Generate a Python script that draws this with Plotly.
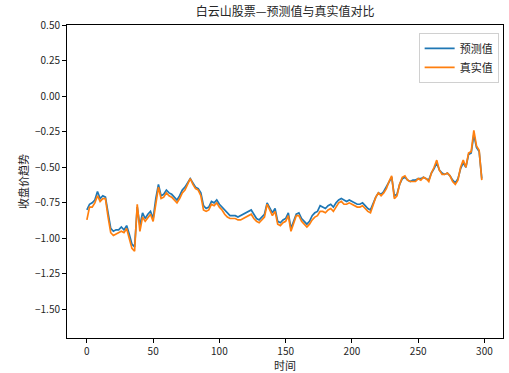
import plotly.graph_objects as go

time_steps = list(range(0, 300, 2))

actual_values = [
    -0.87, -0.78, -0.78, -0.75, -0.70, -0.74, -0.72, -0.72, -0.85, -0.96,
    -0.98, -0.97, -0.96, -0.95, -0.96, -0.93, -1.00, -1.07, -1.09, -0.76,
    -0.95, -0.85, -0.88, -0.85, -0.83, -0.88, -0.75, -0.64, -0.72, -0.71,
    -0.68, -0.70, -0.71, -0.73, -0.75, -0.72, -0.68, -0.66, -0.62, -0.58,
    -0.62, -0.65, -0.66, -0.70, -0.80, -0.81, -0.80, -0.76, -0.77, -0.75,
    -0.78, -0.80, -0.83, -0.85, -0.86, -0.86, -0.86, -0.87, -0.87, -0.86,
    -0.85, -0.84, -0.83, -0.86, -0.88, -0.89, -0.87, -0.85, -0.76, -0.80,
    -0.84, -0.81, -0.90, -0.91, -0.89, -0.88, -0.84, -0.95, -0.89, -0.84,
    -0.84, -0.88, -0.90, -0.92, -0.90, -0.87, -0.85, -0.84, -0.81, -0.81,
    -0.82, -0.80, -0.79, -0.81, -0.78, -0.75, -0.74, -0.76, -0.76, -0.75,
    -0.76, -0.77, -0.78, -0.78, -0.77, -0.79, -0.81, -0.82, -0.76, -0.71,
    -0.68, -0.70, -0.68, -0.65, -0.60, -0.56, -0.72, -0.70, -0.62, -0.57,
    -0.56, -0.59, -0.60, -0.60, -0.60, -0.58, -0.59, -0.57, -0.58, -0.60,
    -0.54, -0.50, -0.45, -0.52, -0.55, -0.55, -0.54, -0.56, -0.60, -0.62,
    -0.59, -0.50, -0.45, -0.50, -0.40, -0.39, -0.24, -0.35, -0.38, -0.59,
]

predicted_values = [
    -0.80, -0.76, -0.75, -0.73, -0.67, -0.72, -0.70, -0.71, -0.82, -0.93,
    -0.95, -0.94, -0.94, -0.92, -0.94, -0.91, -0.97, -1.04, -1.06, -0.78,
    -0.91, -0.82, -0.86, -0.83, -0.81, -0.86, -0.72, -0.62, -0.70, -0.69,
    -0.66, -0.68, -0.69, -0.71, -0.73, -0.70, -0.66, -0.64, -0.61, -0.58,
    -0.61, -0.64, -0.65, -0.68, -0.77, -0.79, -0.78, -0.74, -0.75, -0.73,
    -0.76, -0.78, -0.80, -0.82, -0.84, -0.84, -0.84, -0.85, -0.84, -0.83,
    -0.82, -0.81, -0.80, -0.83, -0.86, -0.87, -0.85, -0.83, -0.75, -0.78,
    -0.82, -0.79, -0.88, -0.89, -0.87, -0.86, -0.82, -0.93, -0.88, -0.83,
    -0.82, -0.86, -0.88, -0.90, -0.88, -0.84, -0.82, -0.81, -0.77, -0.78,
    -0.79, -0.77, -0.76, -0.78, -0.75, -0.73, -0.72, -0.73, -0.74, -0.73,
    -0.74, -0.75, -0.76, -0.76, -0.75, -0.77, -0.79, -0.80, -0.75, -0.71,
    -0.68, -0.69, -0.67, -0.64, -0.60, -0.57, -0.70, -0.69, -0.62, -0.58,
    -0.57, -0.59, -0.60, -0.59, -0.59, -0.58, -0.58, -0.57, -0.58, -0.59,
    -0.54, -0.51, -0.47, -0.52, -0.54, -0.55, -0.54, -0.56, -0.59, -0.61,
    -0.58, -0.51, -0.47, -0.50, -0.41, -0.40, -0.27, -0.36, -0.39, -0.58,
]

series_names = ["预测值", "真实值"]
series_colors = ["#1f77b4", "#ff7f0e"]

chart_title = "白云山股票—预测值与真实值对比"
x_title = "时间"
y_title = "收盘价趋势"
x_tick_values = [0, 50, 100, 150, 200, 250, 300]
y_tick_values = [0.5, 0.25, 0.0, -0.25, -0.5, -0.75, -1.0, -1.25, -1.5]

font_family = "Noto Sans CJK SC, Noto Sans, sans-serif"

fig = go.Figure()
for name, color, vals in zip(series_names, series_colors, [predicted_values, actual_values]):
    fig.add_trace(go.Scatter(
        x=time_steps, y=vals, mode="lines", name=name,
        line=dict(color=color, width=1.7),
    ))

axis_common = dict(
    showline=True, linecolor="#000000", linewidth=1, mirror=True,
    ticks="outside", ticklen=4, tickwidth=1, tickcolor="#000000",
    showgrid=False, zeroline=False, automargin=False,
    tickfont=dict(family=font_family, size=10, color="#262626"),
)

fig.update_layout(
    width=509, height=373,
    margin=dict(l=67, r=6, t=25, b=35),
    paper_bgcolor="white", plot_bgcolor="white",
    font=dict(family=font_family, color="#262626"),
    title=dict(text=chart_title, x=0.56, xanchor="center", y=0.968, yanchor="middle",
               font=dict(family=font_family, size=12, color="#262626")),
    xaxis=dict(range=[-15, 314], tickvals=x_tick_values,
               title=dict(text=x_title, standoff=2, font=dict(family=font_family, size=11)),
               **axis_common),
    yaxis=dict(range=[-1.7, 0.5], tickvals=y_tick_values, tickformat=".2f",
               title=dict(text=y_title, standoff=4, font=dict(family=font_family, size=11)),
               **axis_common),
    legend=dict(x=0.99, y=0.975, xanchor="right", yanchor="top",
                bgcolor="rgba(255,255,255,0.8)", bordercolor="#d0d0d0", borderwidth=1,
                font=dict(family=font_family, size=11, color="#262626"),
                tracegroupgap=0, itemwidth=30),
    showlegend=True,
)

fig.write_html("out.html", config={"displayModeBar": False},
               post_script="document.body.style.margin='0';document.body.style.overflow='hidden';")
